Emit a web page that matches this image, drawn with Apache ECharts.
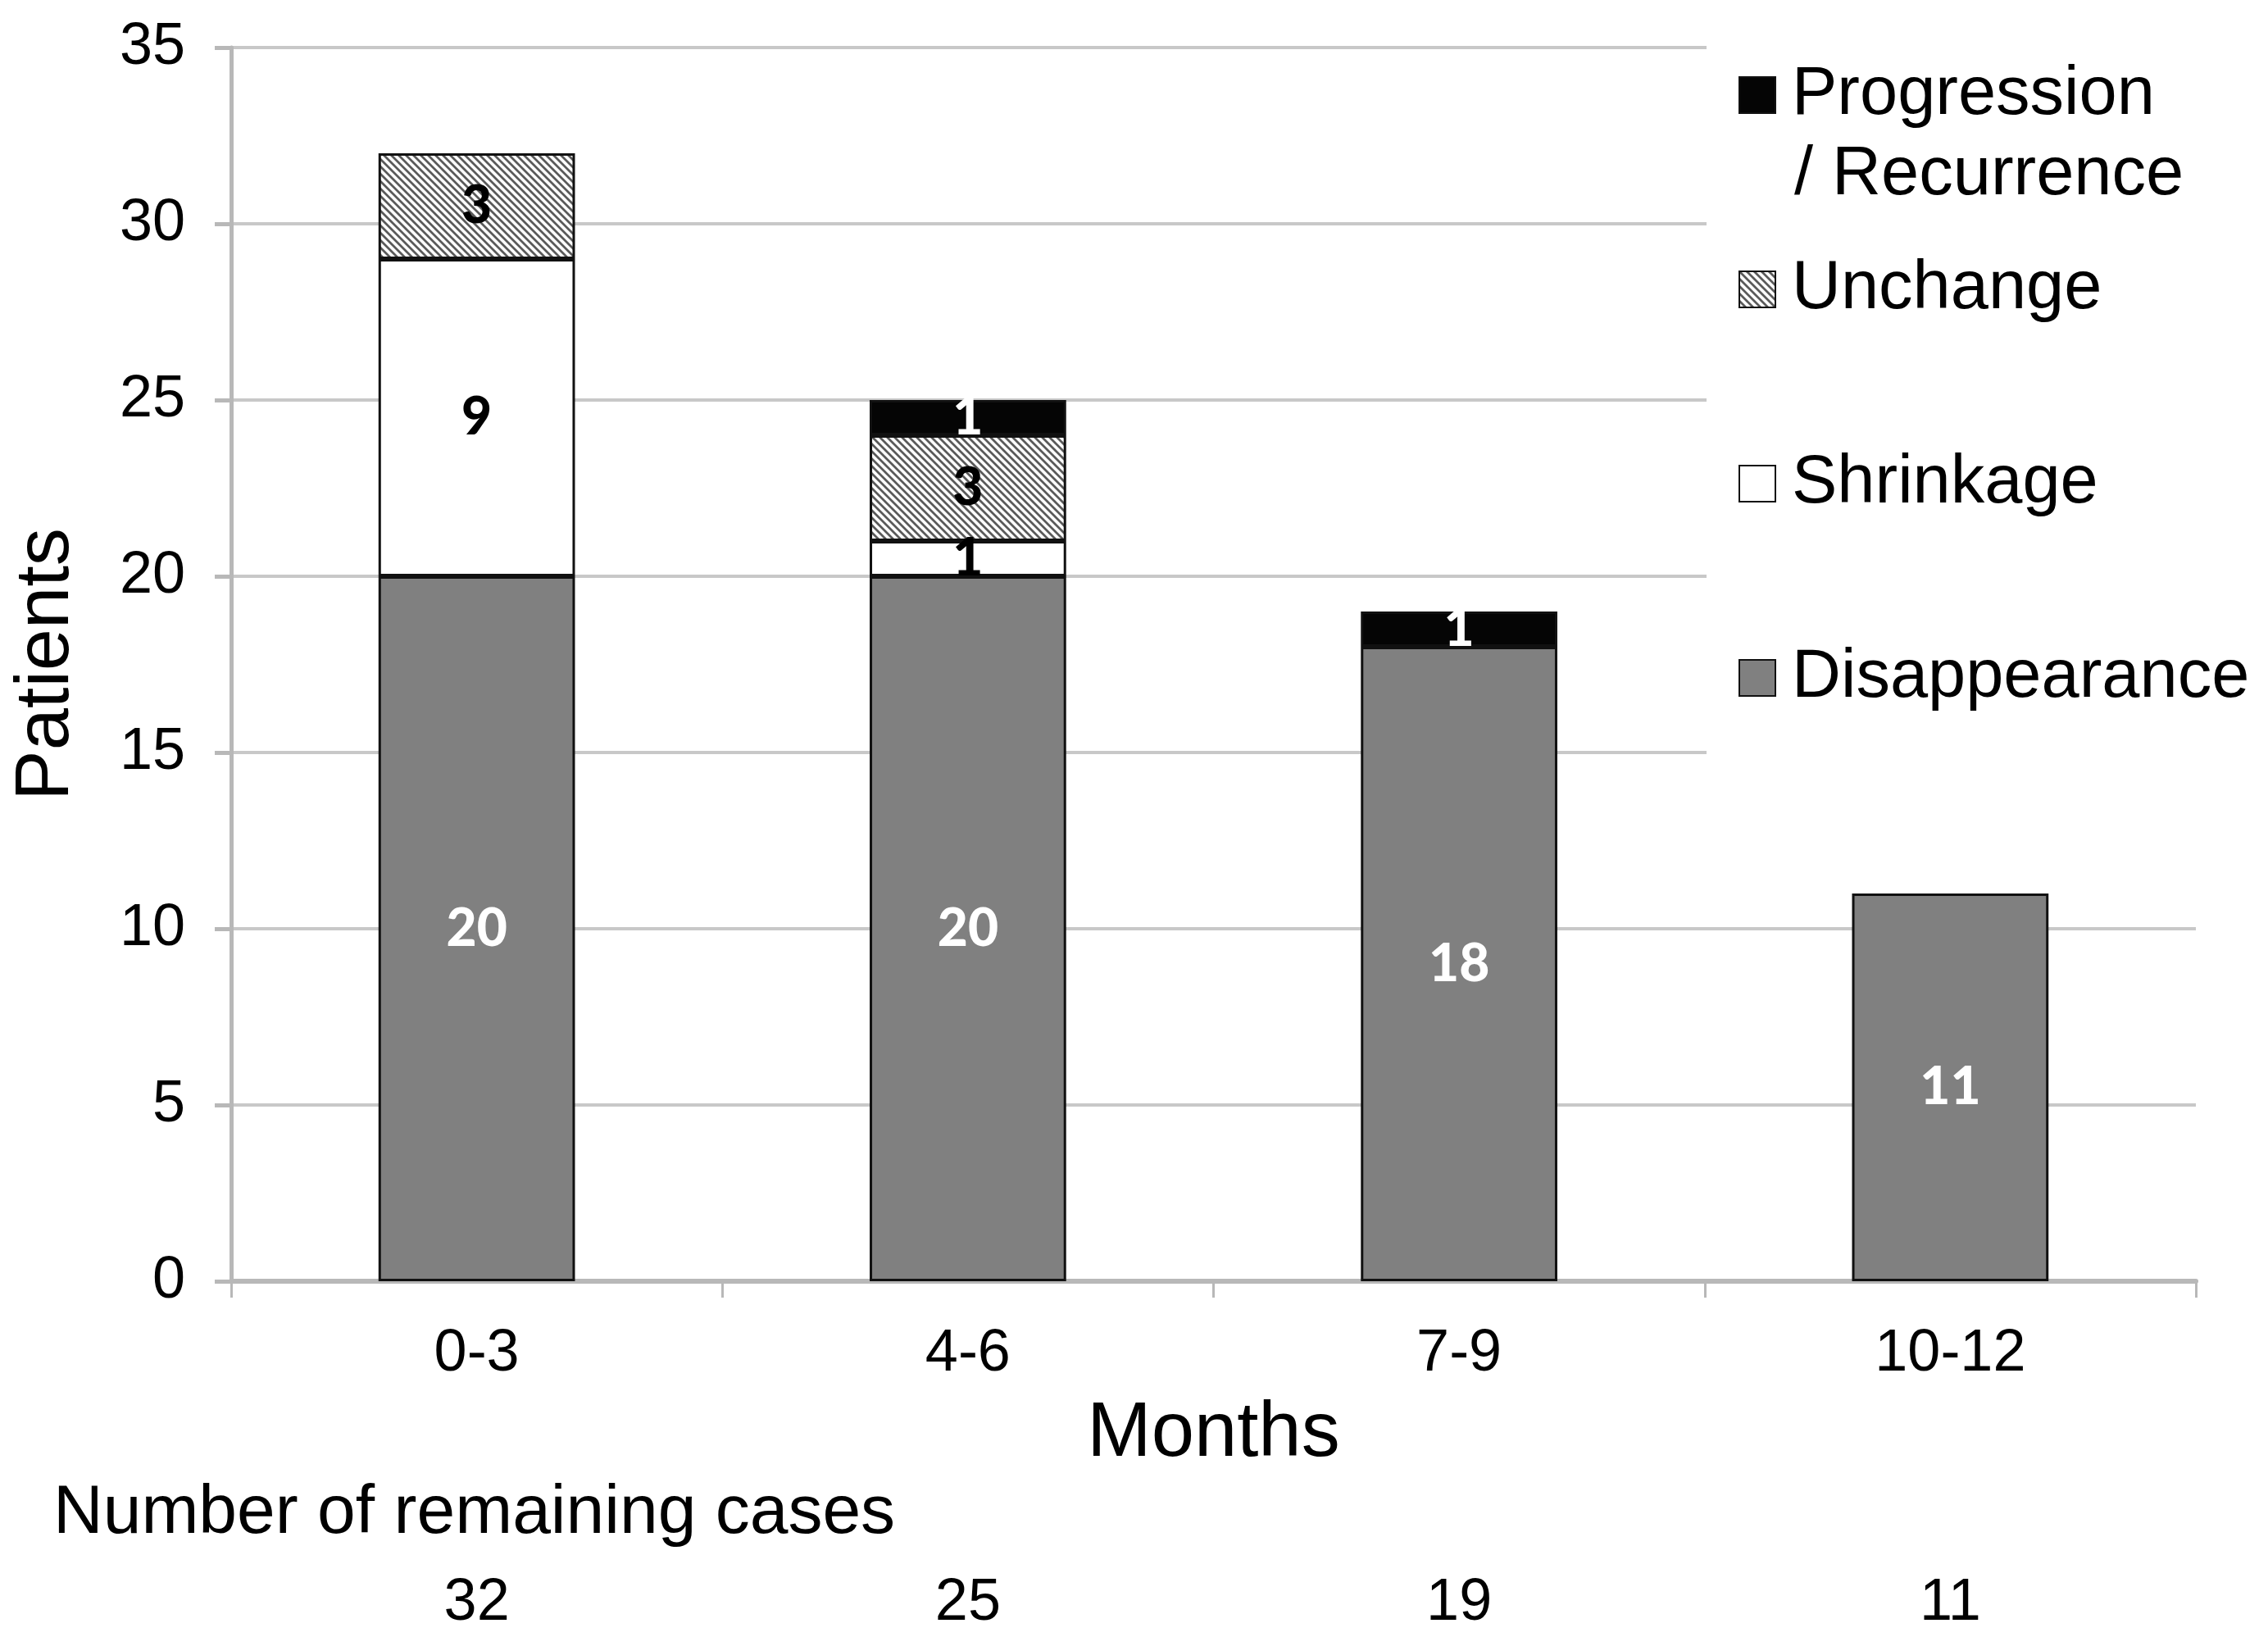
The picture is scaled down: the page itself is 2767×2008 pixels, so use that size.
<!DOCTYPE html>
<html>
<head>
<meta charset="utf-8">
<script src="https://cdn.jsdelivr.net/npm/echarts@6/dist/echarts.min.js"></script>
<style>
html,body{margin:0;padding:0;background:#fff;}
#chart{width:2767px;height:2008px;}
</style>
</head>
<body>
<div id="chart"></div>
<script>
const categories = ['0-3', '4-6', '7-9', '10-12'];
const disappearance = [20, 20, 18, 11];
const shrinkage = [9, 1, 0, 0];
const unchange = [3, 3, 0, 0];
const progression = [0, 1, 1, 0];
const remaining = [32, 25, 19, 11];
const yTicks = { min: 0, max: 35, interval: 5 };

function hatchPattern() {
  const s = 9;
  const c = document.createElement('canvas');
  c.width = s; c.height = s;
  const g = c.getContext('2d');
  g.fillStyle = '#ffffff';
  g.fillRect(0, 0, s, s);
  g.strokeStyle = '#5a5a5a';
  g.lineWidth = 2.8;
  g.beginPath();
  [-s, 0, s].forEach(k => { g.moveTo(k - 2, -2); g.lineTo(k + s + 2, s + 2); });
  g.stroke();
  return { image: c, repeat: 'repeat' };
}

const FONT = "'Liberation Sans', Arial, sans-serif";
const LABEL_FONT = "Lato, 'Open Sans', sans-serif";
const nz = arr => arr.map(v => (v === 0 ? '-' : v));
const border = { borderColor: '#111111', borderWidth: 3 };

function mk(name, data, color, labelColor) {
  return {
    name: name,
    type: 'bar',
    stack: 'total',
    barWidth: '40%',
    data: nz(data),
    itemStyle: Object.assign({ color: color }, border),
    label: {
      show: true,
      position: 'inside',
      color: labelColor,
      fontFamily: LABEL_FONT,
      fontWeight: 900,
      fontSize: 64
    },
    emphasis: { disabled: true }
  };
}

const chart = echarts.init(document.getElementById('chart'), null, { renderer: 'canvas' });
const option = {
  animation: false,
  backgroundColor: '#ffffff',
  grid: { left: 282, right: 88, top: 58, bottom: 445 },
  title: {
    text: 'Number of remaining cases',
    left: 60, top: 1800,
    textStyle: { fontFamily: FONT, fontSize: 84, fontWeight: 'normal', color: '#000' }
  },
  legend: {
    orient: 'vertical',
    left: 2116, top: 66,
    itemWidth: 44, itemHeight: 44,
    itemGap: 147,
    icon: 'rect',
    data: ['Progression / Recurrence', 'Unchange', 'Shrinkage', 'Disappearance'],
    formatter: n => (n === 'Progression / Recurrence' ? 'Progression' : n),
    textStyle: { fontFamily: FONT, fontSize: 83, color: '#000', lineHeight: 90, padding: [0, 0, 0, 15] },
    selectedMode: false
  },
  xAxis: [
    {
      type: 'category',
      data: categories,
      position: 'bottom',
      name: 'Months',
      nameLocation: 'middle',
      nameGap: 140,
      nameTextStyle: { fontFamily: FONT, fontSize: 94, color: '#000' },
      axisLine: { show: true, lineStyle: { color: '#b8b8b8', width: 6 } },
      axisTick: { show: true, length: 20, lineStyle: { color: '#b8b8b8', width: 3 } },
      axisLabel: { fontFamily: FONT, fontSize: 72, color: '#000', margin: 53 },
      splitLine: { show: false }
    },
    {
      type: 'category',
      data: remaining.map(String),
      position: 'bottom',
      offset: 340,
      axisLine: { show: false },
      axisTick: { show: false },
      axisLabel: { fontFamily: FONT, fontSize: 72, color: '#000', margin: 17 },
      splitLine: { show: false }
    }
  ],
  yAxis: {
    type: 'value',
    min: yTicks.min, max: yTicks.max, interval: yTicks.interval,
    name: 'Patients',
    nameLocation: 'middle',
    nameGap: 178,
    nameRotate: 90,
    nameTextStyle: { fontFamily: FONT, fontSize: 92, color: '#000' },
    axisLine: { show: true, lineStyle: { color: '#b8b8b8', width: 5 } },
    axisTick: { show: true, length: 20, lineStyle: { color: '#b8b8b8', width: 5 } },
    axisLabel: { fontFamily: FONT, fontSize: 72, color: '#000', margin: 56 },
    splitLine: { show: true, lineStyle: { color: '#c8c8c8', width: 4 } }
  },
  graphic: [
    { type: 'rect', z: 3, shape: { x: 2082, y: 20, width: 690, height: 935 }, style: { fill: '#ffffff' }, silent: true },
    { type: 'text', z: 10, left: 2189, top: 173, style: { text: '/ Recurrence', font: "83px 'Liberation Sans', Arial, sans-serif", fill: '#000' }, silent: true }
  ],
  series: [
    mk('Disappearance', disappearance, '#808080', '#ffffff'),
    mk('Shrinkage', shrinkage, '#ffffff', '#000000'),
    mk('Unchange', unchange, hatchPattern(), '#000000'),
    mk('Progression / Recurrence', progression, '#050505', '#ffffff')
  ]
};
chart.setOption(option);
</script>
</body>
</html>
